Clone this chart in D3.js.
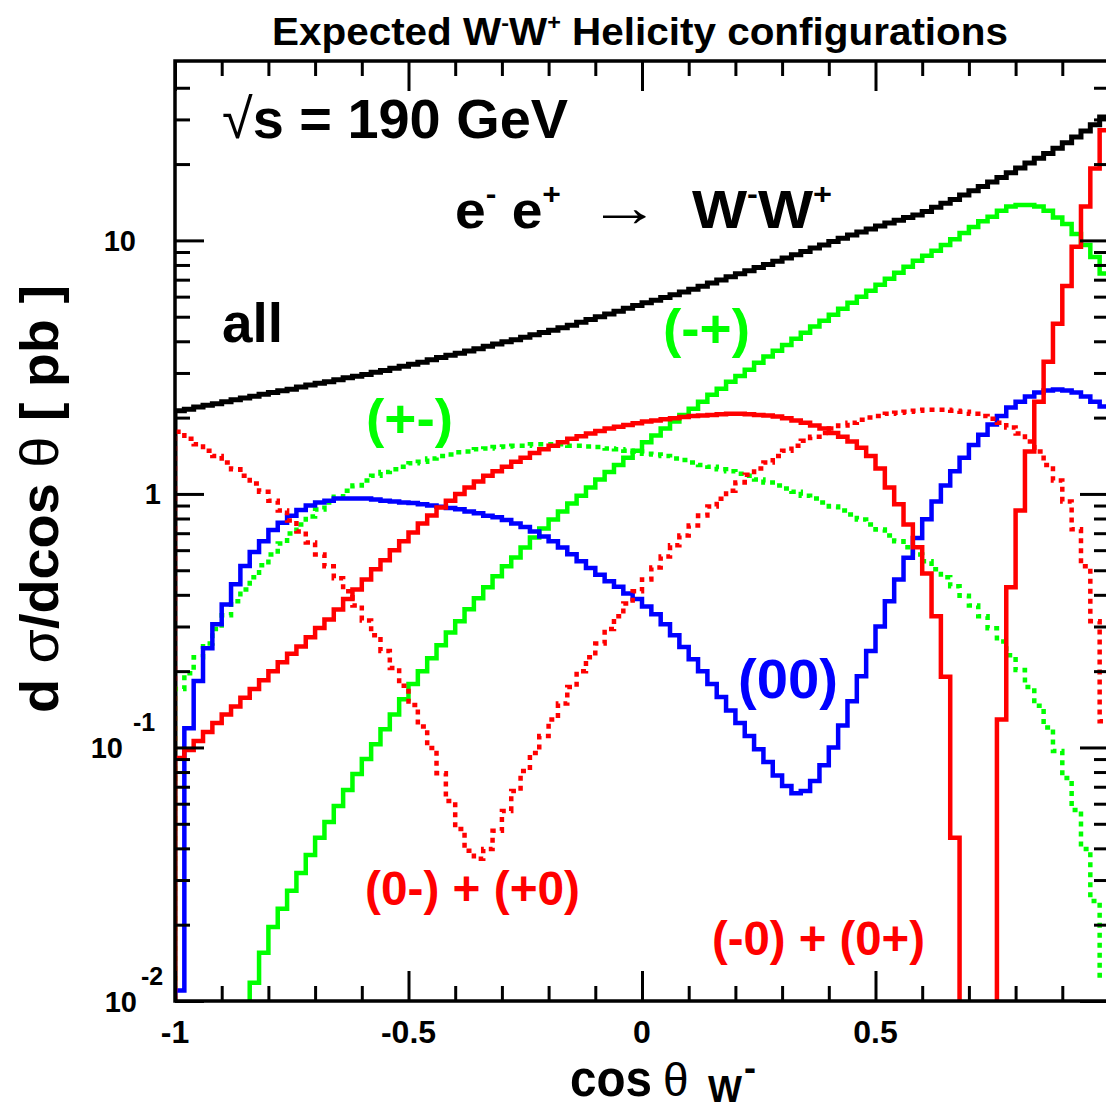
<!DOCTYPE html>
<html>
<head>
<meta charset="utf-8">
<script src="https://cdn.jsdelivr.net/npm/d3@7"></script>
<style>
  html, body { margin: 0; padding: 0; background: #fff; }
  svg { display: block; font-family: "Liberation Sans", Arial, Helvetica, sans-serif; font-weight: bold; }
</style>
</head>
<body>
<svg id="chart" width="1106" height="1111"></svg>
<script>
// ── Data: 100 bins of cos(theta_W-) in [-1, 1], values in pb ──
const NBINS = 100;
const binEdges = d3.range(NBINS + 1).map((i) => -1 + (2 * i) / NBINS);

// all helicities
const allHel = [
  2.13, 2.16, 2.20, 2.24, 2.27, 2.31, 2.35, 2.39, 2.43, 2.47,
  2.51, 2.55, 2.59, 2.64, 2.69, 2.73, 2.77, 2.82, 2.87, 2.91,
  2.96, 3.02, 3.07, 3.13, 3.19, 3.25, 3.31, 3.38, 3.45, 3.52,
  3.59, 3.66, 3.74, 3.82, 3.90, 3.98, 4.06, 4.15, 4.24, 4.33,
  4.42, 4.52, 4.63, 4.75, 4.87, 5.00, 5.13, 5.26, 5.40, 5.53,
  5.67, 5.81, 5.96, 6.11, 6.26, 6.42, 6.60, 6.79, 6.98, 7.18,
  7.38, 7.59, 7.81, 8.04, 8.27, 8.53, 8.78, 9.05, 9.33, 9.60,
  9.90, 10.2, 10.5, 10.8, 11.1, 11.4, 11.7, 12.0, 12.3, 12.6,
  13.0, 13.5, 14.0, 14.5, 15.1, 15.7, 16.3, 17.0, 17.7, 18.5,
  19.3, 20.2, 21.1, 22.0, 23.1, 24.3, 25.6, 27.0, 28.6, 30.7,
];

// (-+)
const helMinusPlus = [
  0.001, 0.0015, 0.002, 0.003, 0.004, 0.005, 0.0065, 0.008, 0.0118, 0.0155,
  0.0196, 0.0231, 0.0272, 0.032, 0.0377, 0.044, 0.0508, 0.0588, 0.068, 0.0785,
  0.090, 0.103, 0.118, 0.135, 0.155, 0.178, 0.200, 0.225, 0.253, 0.284,
  0.315, 0.351, 0.388, 0.428, 0.473, 0.518, 0.562, 0.615, 0.673, 0.731,
  0.793, 0.853, 0.917, 0.983, 1.06, 1.14, 1.22, 1.30, 1.39, 1.48,
  1.60, 1.70, 1.81, 1.93, 2.05, 2.17, 2.31, 2.46, 2.60, 2.77,
  2.92, 3.09, 3.29, 3.48, 3.67, 3.87, 4.09, 4.32, 4.57, 4.82,
  5.09, 5.38, 5.68, 6.00, 6.33, 6.68, 7.06, 7.45, 7.87, 8.31,
  8.69, 9.10, 9.60, 10.1, 10.7, 11.3, 11.9, 12.4, 13.1, 13.6,
  13.8, 13.8, 13.6, 13.1, 12.3, 11.6, 10.6, 9.6, 8.6, 7.4,
];

// (+-)
const helPlusMinus = [
  0.170, 0.196, 0.227, 0.257, 0.293, 0.332, 0.377, 0.420, 0.469, 0.523,
  0.577, 0.638, 0.698, 0.758, 0.815, 0.868, 0.926, 0.975, 1.03, 1.08,
  1.13, 1.18, 1.22, 1.25, 1.28, 1.32, 1.34, 1.38, 1.41, 1.43,
  1.46, 1.47, 1.50, 1.51, 1.53, 1.54, 1.55, 1.55, 1.57, 1.57,
  1.57, 1.57, 1.55, 1.55, 1.54, 1.53, 1.51, 1.50, 1.48, 1.47,
  1.44, 1.43, 1.41, 1.38, 1.36, 1.33, 1.30, 1.28, 1.25, 1.23,
  1.20, 1.18, 1.14, 1.11, 1.08, 1.05, 1.02, 0.983, 0.959, 0.926,
  0.893, 0.861, 0.830, 0.793, 0.758, 0.724, 0.686, 0.650, 0.616, 0.577,
  0.542, 0.504, 0.469, 0.432, 0.397, 0.363, 0.329, 0.295, 0.262, 0.231,
  0.202, 0.173, 0.146, 0.120, 0.0968, 0.0757, 0.0567, 0.0398, 0.0248, 0.0126,
];

// (00)
const helZeroZero = [
  0.011, 0.119, 0.183, 0.246, 0.306, 0.366, 0.44, 0.52, 0.59, 0.65,
  0.72, 0.77, 0.82, 0.865, 0.90, 0.925, 0.94, 0.96, 0.96, 0.96,
  0.96, 0.95, 0.94, 0.934, 0.925, 0.92, 0.91, 0.90, 0.89, 0.88,
  0.87, 0.853, 0.84, 0.82, 0.81, 0.79, 0.765, 0.74, 0.711, 0.68,
  0.65, 0.615, 0.578, 0.542, 0.51, 0.48, 0.452, 0.43, 0.405, 0.385,
  0.36, 0.335, 0.306, 0.277, 0.249, 0.223, 0.200, 0.178, 0.158, 0.140,
  0.125, 0.111, 0.0985, 0.0876, 0.0776, 0.0705, 0.066, 0.0673, 0.0737, 0.085,
  0.100, 0.122, 0.152, 0.191, 0.240, 0.30, 0.377, 0.46, 0.56, 0.67,
  0.795, 0.934, 1.08, 1.23, 1.39, 1.56, 1.71, 1.88, 2.03, 2.19,
  2.31, 2.42, 2.51, 2.56, 2.58, 2.56, 2.51, 2.42, 2.31, 2.21,
];

// (-0) + (0+)
const helMinusZeroZeroPlus = [
  0.0909, 0.0977, 0.106, 0.115, 0.125, 0.135, 0.145, 0.157, 0.170, 0.184,
  0.200, 0.217, 0.234, 0.250, 0.272, 0.296, 0.320, 0.350, 0.385, 0.420,
  0.460, 0.504, 0.547, 0.599, 0.650, 0.705, 0.765, 0.822, 0.884, 0.940,
  1.00, 1.06, 1.12, 1.18, 1.23, 1.28, 1.34, 1.39, 1.45, 1.50,
  1.55, 1.60, 1.65, 1.69, 1.73, 1.77, 1.81, 1.84, 1.87, 1.90,
  1.93, 1.95, 1.97, 1.99, 2.01, 2.03, 2.04, 2.05, 2.06, 2.07,
  2.07, 2.06, 2.05, 2.04, 2.02, 1.99, 1.95, 1.91, 1.86, 1.81,
  1.74, 1.68, 1.61, 1.52, 1.41, 1.26, 1.06, 0.91, 0.758, 0.616,
  0.486, 0.329, 0.190, 0.0440, 0.005, 0.002, 0.002, 0.006, 0.129, 0.428,
  0.861, 1.47, 2.31, 3.32, 4.69, 6.61, 9.43, 13.6, 19.2, 27.2,
];

// (0-) + (+0)
const helZeroMinusPlusZero = [
  1.76, 1.65, 1.57, 1.48, 1.41, 1.33, 1.25, 1.18, 1.10, 1.02,
  0.940, 0.861, 0.786, 0.711, 0.644, 0.577, 0.518, 0.465, 0.413, 0.363,
  0.317, 0.277, 0.240, 0.206, 0.175, 0.147, 0.121, 0.0995, 0.0792, 0.0615,
  0.0477, 0.0391, 0.0364, 0.0398, 0.0469, 0.0562, 0.0673, 0.0807, 0.0951, 0.111,
  0.129, 0.149, 0.173, 0.200, 0.227, 0.257, 0.293, 0.329, 0.370, 0.413,
  0.460, 0.513, 0.567, 0.627, 0.685, 0.751, 0.822, 0.893, 0.958, 1.03,
  1.11, 1.19, 1.26, 1.33, 1.41, 1.48, 1.55, 1.62, 1.68, 1.74,
  1.81, 1.86, 1.91, 1.96, 2.00, 2.03, 2.07, 2.09, 2.11, 2.13,
  2.15, 2.15, 2.15, 2.13, 2.11, 2.07, 2.03, 1.98, 1.91, 1.83,
  1.73, 1.61, 1.47, 1.30, 1.13, 0.934, 0.725, 0.518, 0.315, 0.127,
];

const xTickLabels = [-1, -0.5, 0, 0.5, 1];
const xMinorTicks = d3.range(-10, 11).map((i) => i / 10);
const yTickLabels = [10, 1, 0.1, 0.01];
const yMinorTicks = [0.01, 0.1, 1, 10]
  .flatMap((d) => d3.range(2, 10).map((m) => +(m * d).toPrecision(3)))
  .filter((v) => v <= 40);

// ── Layout ──
const svg = d3.select('#chart');
const WIDTH = 1106;
const X0 = 175, X1 = 1109, Y0 = 61, Y1 = 1001;
const GREEN = '#00ff00', BLUE = '#0000ff', RED = '#ff0000', BLACK = '#000000';

const x = d3.scaleLinear().domain([-1, 1]).range([X0, X1]);
const y = d3.scaleLog().domain([0.01, 51]).range([Y1, Y0]);

svg.append('defs').append('clipPath').attr('id', 'plot-clip')
  .append('rect')
  .attr('x', X0).attr('y', Y0)
  .attr('width', X1 - X0).attr('height', Y1 - Y0);

// step outline as ROOT draws it: up from the baseline, across the bins, back down
function histPoints(vals) {
  const base = y.domain()[0];
  const pts = [[binEdges[0], base]];
  vals.forEach((v, i) => pts.push([binEdges[i], v]));
  pts.push([binEdges[NBINS], vals[NBINS - 1]]);
  pts.push([binEdges[NBINS], base]);
  return pts;
}

const step = d3.line()
  .x((d) => x(d[0]))
  .y((d) => y(d[1]))
  .curve(d3.curveStepAfter);

const series = [
  { vals: allHel, color: BLACK, dash: null, width: 5 },
  { vals: helMinusPlus, color: GREEN, dash: null, width: 4.5 },
  { vals: helPlusMinus, color: GREEN, dash: '5 5', width: 4.5 },
  { vals: helZeroZero, color: BLUE, dash: null, width: 4.5 },
  { vals: helZeroMinusPlusZero, color: RED, dash: '5 5', width: 4.5 },
  { vals: helMinusZeroZeroPlus, color: RED, dash: null, width: 4.5 },
];

svg.append('g').attr('clip-path', 'url(#plot-clip)')
  .selectAll('path')
  .data(series)
  .join('path')
  .attr('d', (d) => step(histPoints(d.vals)))
  .attr('fill', 'none')
  .attr('stroke', (d) => d.color)
  .attr('stroke-width', (d) => d.width)
  .attr('stroke-dasharray', (d) => d.dash);

// ── Frame and ticks ──
function styleTicks(g) {
  g.select('.domain').remove();
  g.selectAll('.tick line').attr('stroke', BLACK).attr('stroke-width', 3);
}

const xMinor = xMinorTicks.filter((v) => !xTickLabels.includes(v));
[[d3.axisBottom, Y1], [d3.axisTop, Y0]].forEach(([axis, pos]) => {
  svg.append('g').attr('transform', `translate(0,${pos})`)
    .call(axis(x).tickValues(xMinor).tickSizeInner(-15).tickSizeOuter(0).tickFormat(''))
    .call(styleTicks);
  svg.append('g').attr('transform', `translate(0,${pos})`)
    .call(axis(x).tickValues(xTickLabels).tickSizeInner(-30).tickSizeOuter(0).tickFormat(''))
    .call(styleTicks);
});

[[d3.axisLeft, X0], [d3.axisRight, X1]].forEach(([axis, pos]) => {
  svg.append('g').attr('transform', `translate(${pos},0)`)
    .call(axis(y).tickValues(yMinorTicks).tickSizeInner(-15).tickSizeOuter(0).tickFormat(''))
    .call(styleTicks);
  svg.append('g').attr('transform', `translate(${pos},0)`)
    .call(axis(y).tickValues(yTickLabels).tickSizeInner(-29).tickSizeOuter(0).tickFormat(''))
    .call(styleTicks);
});

svg.append('rect')
  .attr('x', X0).attr('y', Y0)
  .attr('width', X1 - X0).attr('height', Y1 - Y0)
  .attr('fill', 'none').attr('stroke', BLACK).attr('stroke-width', 3.5);

// x tick labels (the one at +1 falls outside the picture)
svg.append('g').selectAll('text')
  .data(xTickLabels.filter((d) => x(d) < WIDTH - 10))
  .join('text')
  .attr('x', (d) => x(d))
  .attr('y', 1043)
  .attr('text-anchor', 'middle')
  .attr('font-size', 32)
  .text((d) => String(d));

// y tick labels: plain for >= 1, 10 with exponent below
yTickLabels.forEach((v) => {
  const yy = y(v);
  if (v >= 1) {
    svg.append('text')
      .attr('x', v === 1 ? 161 : 136).attr('y', yy + 10.5)
      .attr('text-anchor', 'end').attr('font-size', 29)
      .text(String(v));
  } else {
    const exp = Math.round(Math.log10(v));
    const baseEnd = exp === -1 ? 123 : 137;
    svg.append('text')
      .attr('x', baseEnd).attr('y', yy + 10.5)
      .attr('text-anchor', 'end').attr('font-size', 29)
      .text('10');
    svg.append('text')
      .attr('x', baseEnd + (exp === -1 ? 10 : 4)).attr('y', yy - 16)
      .attr('font-size', 25)
      .text(String(exp));
  }
});

// ── Titles ──
const title = svg.append('text')
  .attr('x', 272).attr('y', 45)
  .attr('font-size', 38)
  .attr('textLength', 736).attr('lengthAdjust', 'spacingAndGlyphs');
title.append('tspan').text('Expected W');
title.append('tspan').attr('font-size', 22).attr('dy', -15).text('-');
title.append('tspan').attr('dy', 15).text('W');
title.append('tspan').attr('font-size', 22).attr('dy', -15).text('+');
title.append('tspan').attr('dy', 15).text(' Helicity configurations');

const xTitle = svg.append('g');
xTitle.append('text').attr('x', 570).attr('y', 1096).attr('font-size', 52)
  .attr('textLength', 82).attr('lengthAdjust', 'spacingAndGlyphs').text('cos');
xTitle.append('text').attr('x', 663).attr('y', 1096).attr('font-size', 46)
  .attr('font-weight', 'normal').text('θ');
xTitle.append('text').attr('x', 708).attr('y', 1102).attr('font-size', 36).text('W');
xTitle.append('text').attr('x', 744).attr('y', 1080).attr('font-size', 36).text('-');

const yTitle = svg.append('text')
  .attr('transform', 'translate(58,499) rotate(-90)')
  .attr('text-anchor', 'middle')
  .attr('font-size', 54)
  .attr('textLength', 428).attr('lengthAdjust', 'spacingAndGlyphs');
yTitle.append('tspan').text('d ');
yTitle.append('tspan').attr('font-weight', 'normal').text('σ');
yTitle.append('tspan').text('/dcos ');
yTitle.append('tspan').attr('font-weight', 'normal').text('θ');
yTitle.append('tspan').text(' [ pb ]');

// ── In-plot annotations ──
const sqrtS = svg.append('text').attr('x', 222).attr('y', 138).attr('font-size', 56)
  .attr('textLength', 346).attr('lengthAdjust', 'spacingAndGlyphs');
sqrtS.append('tspan').attr('font-weight', 'normal').text('√');
sqrtS.append('tspan').text('s = 190 GeV');

const ee = svg.append('text').attr('x', 455).attr('y', 228).attr('font-size', 52)
  .attr('textLength', 106).attr('lengthAdjust', 'spacingAndGlyphs');
ee.append('tspan').text('e');
ee.append('tspan').attr('font-size', 30).attr('dy', -24).text('-');
ee.append('tspan').attr('dy', 24).text(' e');
ee.append('tspan').attr('font-size', 30).attr('dy', -24).text('+');

svg.append('text').attr('x', 588).attr('y', 226).attr('font-size', 56)
  .attr('font-weight', 'normal')
  .attr('textLength', 72).attr('lengthAdjust', 'spacingAndGlyphs').text('→');

const ww = svg.append('text').attr('x', 692).attr('y', 228).attr('font-size', 54)
  .attr('textLength', 140).attr('lengthAdjust', 'spacingAndGlyphs');
ww.append('tspan').text('W');
ww.append('tspan').attr('font-size', 30).attr('dy', -24).text('-');
ww.append('tspan').attr('dy', 24).text('W');
ww.append('tspan').attr('font-size', 30).attr('dy', -24).text('+');

svg.append('text').attr('x', 222).attr('y', 342).attr('font-size', 56)
  .attr('textLength', 61).attr('lengthAdjust', 'spacingAndGlyphs').text('all');

const tags = [
  { text: '(-+)', x: 663, y: 347, size: 54, w: 87, color: GREEN },
  { text: '(+-)', x: 366, y: 437, size: 54, w: 87, color: GREEN },
  { text: '(00)', x: 738, y: 698, size: 56, w: 100, color: BLUE },
  { text: '(0-) + (+0)', x: 365, y: 905, size: 48, w: 215, color: RED },
  { text: '(-0) + (0+)', x: 712, y: 955, size: 48, w: 213, color: RED },
];
svg.append('g').selectAll('text')
  .data(tags)
  .join('text')
  .attr('x', (d) => d.x).attr('y', (d) => d.y)
  .attr('font-size', (d) => d.size)
  .attr('fill', (d) => d.color)
  .attr('textLength', (d) => d.w).attr('lengthAdjust', 'spacingAndGlyphs')
  .text((d) => d.text);
</script>
</body>
</html>
